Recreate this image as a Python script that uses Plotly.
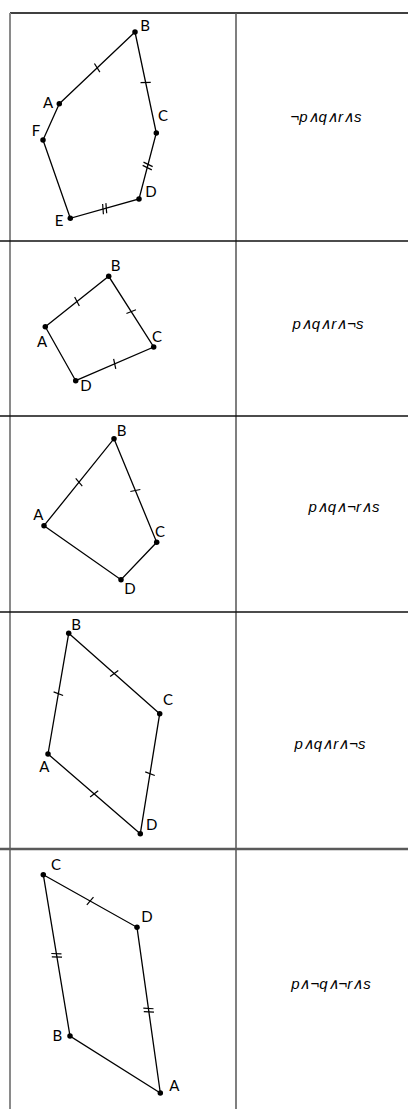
import math

import plotly.graph_objects as go

# table layout (pixel space, y grows downward)
row_tops = [13, 241, 416, 612, 849]
col_left, col_mid, col_right = 10, 236, 408
page_h = 1109

# polygons: vertex names, x, y, and the tick count on each edge (i -> i+1)
shapes_data = [
    dict(names=["A", "B", "C", "D", "E", "F"],
         x=[59.3, 135, 156.3, 139, 70.3, 43],
         y=[103.7, 32, 133, 199, 218.3, 140],
         ticks=[1, 1, 2, 2, 0, 0],
         lx=[48, 145, 163, 151, 59, 36],
         ly=[104, 27, 117, 193, 222, 132]),
    dict(names=["A", "B", "C", "D"],
         x=[45.3, 108.7, 153.7, 75.7],
         y=[326.7, 276.3, 347, 380.7],
         ticks=[1, 1, 1, 0],
         lx=[42, 115.7, 157, 86],
         ly=[343, 267.3, 338, 387]),
    dict(names=["A", "B", "C", "D"],
         x=[44, 114, 156.7, 121],
         y=[525.7, 438.7, 542.3, 579.7],
         ticks=[1, 1, 0, 0],
         lx=[38.3, 121.7, 160, 130],
         ly=[516.7, 432.3, 533, 590]),
    dict(names=["A", "B", "C", "D"],
         x=[48, 68.7, 159.7, 140.3],
         y=[754, 633.3, 713.7, 833.7],
         ticks=[1, 1, 1, 1],
         lx=[44.3, 76, 168, 151.7],
         ly=[768.3, 626.7, 701.7, 826.7]),
    dict(names=["A", "B", "C", "D"],
         x=[160.3, 70, 43.3, 137],
         y=[1093, 1036, 874.7, 927.3],
         ticks=[0, 2, 1, 2],
         lx=[174.3, 57.3, 56, 147],
         ly=[1087.7, 1037.7, 866.7, 918.3]),
]

formulas = ["¬p∧q∧r∧s", "p∧q∧r∧¬s", "p∧q∧¬r∧s", "p∧q∧r∧¬s", "p∧¬q∧¬r∧s"]
formula_x = [326, 328, 344, 330, 331]
formula_y = [118, 325, 508, 745, 985]

fig = go.Figure()

for shp in shapes_data:
    xs, ys = shp["x"], shp["y"]
    n = len(xs)
    fig.add_trace(go.Scatter(
        x=xs + [xs[0]], y=ys + [ys[0]], mode="lines",
        line=dict(color="black", width=1.3), hoverinfo="skip"))

    # equal-length tick marks at edge midpoints
    tx, ty = [], []
    for i in range(n):
        k = shp["ticks"][i]
        if not k:
            continue
        x0, y0 = xs[i], ys[i]
        x1, y1 = xs[(i + 1) % n], ys[(i + 1) % n]
        d = math.hypot(x1 - x0, y1 - y0)
        ux, uy = (x1 - x0) / d, (y1 - y0) / d
        vx, vy = -uy, ux
        mx, my = (x0 + x1) / 2, (y0 + y1) / 2
        for j in range(k):
            off = (j - (k - 1) / 2) * 3.4
            cx, cy = mx + ux * off, my + uy * off
            tx += [cx - vx * 5 + ux * 1, cx + vx * 5 - ux * 1, None]
            ty += [cy - vy * 5 + uy * 1, cy + vy * 5 - uy * 1, None]
    fig.add_trace(go.Scatter(
        x=tx, y=ty, mode="lines",
        line=dict(color="black", width=1.2), hoverinfo="skip"))

    fig.add_trace(go.Scatter(
        x=xs, y=ys, mode="markers",
        marker=dict(color="black", size=5.5), hoverinfo="skip"))
    fig.add_trace(go.Scatter(
        x=shp["lx"], y=shp["ly"], mode="text", text=shp["names"],
        textposition="middle center",
        textfont=dict(family="Lato, DejaVu Sans", size=15, color="black"),
        hoverinfo="skip"))

fig.add_trace(go.Scatter(
    x=formula_x, y=formula_y, mode="text",
    text=[f"<i>{f}</i>" for f in formulas],
    textposition="middle center",
    textfont=dict(family="Liberation Sans, Arial", size=15, color="black"),
    hoverinfo="skip"))

# table grid
shapes = [
    dict(type="line", x0=col_left, x1=col_right, y0=row_tops[0], y1=row_tops[0],
         line=dict(color="black", width=1.6)),
    dict(type="line", x0=col_left, x1=col_left, y0=row_tops[0], y1=page_h,
         line=dict(color="#8a8a8a", width=2)),
    dict(type="line", x0=col_mid, x1=col_mid, y0=row_tops[0], y1=page_h,
         line=dict(color="#555555", width=1.5)),
]
for i, yy in enumerate(row_tops[1:]):
    col = "#5a5a5a" if i == 3 else "#111111"
    w = 2.5 if i == 3 else 1.6
    shapes.append(dict(type="line", x0=0, x1=col_right, y0=yy, y1=yy,
                       line=dict(color=col, width=w)))

fig.update_layout(
    width=408, height=1109,
    margin=dict(l=0, r=0, t=0, b=0),
    plot_bgcolor="white", paper_bgcolor="white",
    showlegend=False,
    shapes=shapes,
    xaxis=dict(range=[0, 408], visible=False, fixedrange=True),
    yaxis=dict(range=[page_h, 0], visible=False, fixedrange=True),
)

fig.write_html("out.html", config={"displayModeBar": False},
               post_script="document.body.style.margin='0';")
